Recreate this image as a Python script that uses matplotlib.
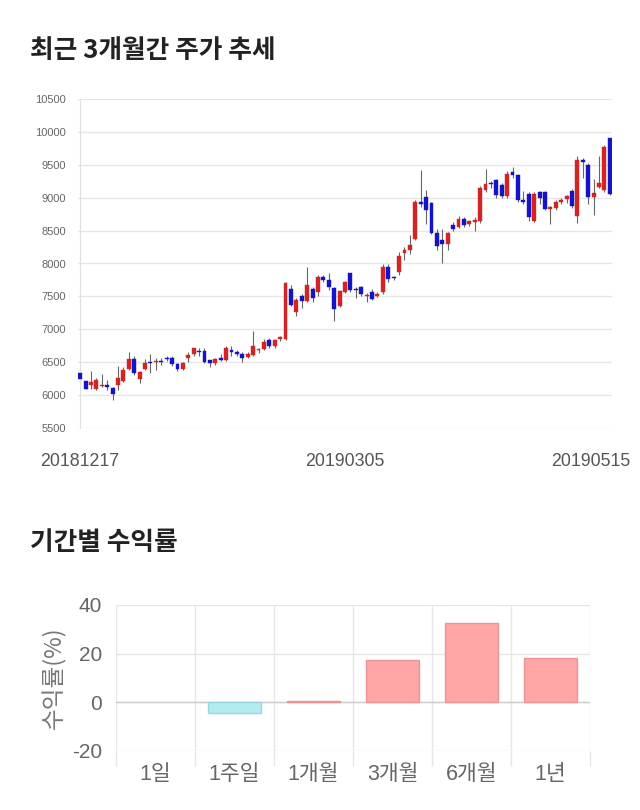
import matplotlib
matplotlib.use("Agg")
import matplotlib.pyplot as plt
import matplotlib.transforms as mtransforms
import numpy as np

plt.rcParams['font.family'] = ['Liberation Sans', 'Noto Sans CJK KR', 'DejaVu Sans']

# ---------------- data ----------------
opens = [6340, 6210, 6160, 6100, 6140, 6160, 6110, 6150, 6210, 6400,
         6550, 6240, 6400, 6510, 6500, 6510, 6570, 6560, 6470, 6390,
         6570, 6620, 6670, 6670, 6530, 6490, 6560, 6530, 6690, 6650,
         6630, 6580, 6614, 6680, 6695, 6830, 6745, 6855, 6860, 7610,
         7260, 7510, 7435, 7620, 7570, 7800, 7750, 7630, 7360, 7570,
         7850, 7600, 7640, 7510, 7560, 7510, 7560, 7940, 7790, 7870,
         8160, 8200, 8370, 8930, 9010, 8920, 8470, 8360, 8300, 8590,
         8560, 8680, 8600, 8630, 8640, 9110, 9230, 9270, 9200, 9020,
         9390, 9340, 8970, 9060, 8650, 9080, 9080, 8830, 8850, 8940,
         8980, 9100, 8720, 9570, 9500, 9010, 9160, 9110, 9900]
closes = [6240, 6100, 6200, 6230, 6160, 6130, 6010, 6260, 6380, 6550,
          6340, 6350, 6490, 6490, 6510, 6500, 6550, 6470, 6390, 6490,
          6610, 6710, 6650, 6500, 6490, 6550, 6530, 6710, 6650, 6630,
          6560, 6630, 6746, 6695, 6800, 6745, 6830, 6880, 7710, 7375,
          7440, 7430, 7680, 7470, 7800, 7750, 7640, 7310, 7580, 7720,
          7600, 7590, 7540, 7525, 7460, 7535, 7940, 7760, 7780, 8120,
          8210, 8280, 8930, 8900, 8810, 8470, 8270, 8290, 8460, 8530,
          8680, 8590, 8640, 8655, 9150, 9210, 9210, 9040, 9020, 9360,
          9340, 8960, 8940, 8710, 9060, 8990, 8830, 8855, 8940, 8960,
          9020, 8880, 9580, 9550, 9010, 9070, 9220, 9770, 9060]
highs = [6350, 6220, 6360, 6260, 6320, 6230, 6130, 6440, 6420, 6650,
         6600, 6360, 6550, 6620, 6570, 6560, 6590, 6600, 6490, 6510,
         6650, 6720, 6720, 6720, 6540, 6570, 6620, 6740, 6750, 6680,
         6650, 6660, 6975, 6720, 6860, 6870, 6860, 6900, 7720, 7680,
         7470, 7540, 7950, 7640, 7820, 7820, 7850, 7650, 7600, 7740,
         7860, 7640, 7660, 7550, 7620, 7560, 7990, 7990, 7810, 8170,
         8250, 8440, 8960, 9420, 9120, 8940, 8520, 8530, 8480, 8630,
         8720, 8700, 8660, 8710, 9180, 9430, 9250, 9290, 9220, 9400,
         9460, 9360, 9100, 9080, 9080, 9100, 9100, 8880, 8960, 8990,
         9040, 9130, 9640, 9600, 9520, 9280, 9630, 9800, 9900]
lows = [6180, 6090, 6090, 6080, 6120, 6080, 5920, 6080, 6200, 6380,
        6300, 6180, 6380, 6340, 6380, 6450, 6520, 6440, 6370, 6380,
        6500, 6600, 6600, 6490, 6420, 6460, 6520, 6520, 6600, 6600,
        6500, 6560, 6600, 6640, 6680, 6720, 6710, 6820, 6840, 7360,
        7200, 7330, 7420, 7420, 7500, 7720, 7600, 7120, 7340, 7550,
        7560, 7470, 7500, 7410, 7440, 7490, 7540, 7720, 7750, 7820,
        8050, 8150, 8350, 8860, 8600, 8450, 8200, 8010, 8200, 8500,
        8540, 8560, 8570, 8500, 8620, 9080, 9150, 9000, 8990, 9000,
        9300, 8940, 8900, 8640, 8630, 8900, 8810, 8600, 8820, 8900,
        8920, 8850, 8620, 9300, 8900, 8740, 9140, 9080, 9040]
date_tick_idx = [0, 49, 98]
date_tick_labels = ['20181217', '20190305', '20190515']
price_ticks = [5500, 6000, 6500, 7000, 7500, 8000, 8500, 9000, 9500, 10000, 10500]

periods = ['1일', '1주일', '1개월', '3개월', '6개월', '1년']
returns = [0.0, -4.3, 0.55, 17.6, 32.6, 18.3]

# ---------------- figure ----------------
W, H = 640, 810
fig = plt.figure(figsize=(W / 100, H / 100), dpi=100)
fig.patch.set_facecolor('white')

def frac_box(left, top, right, bottom):
    return [left / W, 1 - bottom / H, (right - left) / W, (bottom - top) / H]

title_font = ['Noto Sans CJK KR', 'DejaVu Sans']
fig.text(30 / W, 1 - 50 / H, '최근 3개월간 주가 추세', family=title_font,
         fontsize=18.5, fontweight='bold', color='#222222', va='center', ha='left')
fig.text(30 / W, 1 - 543 / H, '기간별 수익률', family=title_font,
         fontsize=18.5, fontweight='bold', color='#222222', va='center', ha='left')

# ---------------- candlestick ----------------
ax = fig.add_axes(frac_box(78, 99, 612, 428))
x = np.arange(len(opens))
o = np.array(opens, float)
c = np.array(closes, float)
hi = np.array(highs, float)
lo = np.array(lows, float)
up = c >= o
ax.vlines(x, lo, hi, color='#666666', lw=0.8, zorder=2)
body_bottom = np.minimum(o, c)
body_h = np.maximum(np.abs(c - o), 18)
colors = np.where(up, '#d42323', '#1414c4')
ax.bar(x, body_h, bottom=body_bottom, width=0.72, color=colors, edgecolor=colors,
       linewidth=0.3, zorder=3)

ax.set_xlim(-0.4, len(opens) - 0.6)
ax.set_ylim(5500, 10500)
ax.set_yticks(price_ticks)
ax.set_yticklabels([str(v) for v in price_ticks])
ax.yaxis.grid(True, color='#e6e6e6', lw=1.0)
ax.set_axisbelow(True)
for s in ['top', 'right', 'bottom']:
    ax.spines[s].set_visible(False)
ax.spines['left'].set_color('#e0e0e0')
ax.spines['left'].set_position(('data', 0))
ax.tick_params(axis='y', length=0, pad=10, labelsize=8, labelcolor='#666666')
ax.set_xticks(date_tick_idx)
ax.set_xticklabels(date_tick_labels)
ax.tick_params(axis='x', length=0, pad=18, labelsize=12.8, labelcolor='#555555')
lbls = ax.get_xticklabels()
lbls[-1].set_transform(lbls[-1].get_transform() +
                       mtransforms.ScaledTranslation(-19 / 100, 0, fig.dpi_scale_trans))

# ---------------- returns bar chart ----------------
bx = fig.add_axes(frac_box(116, 605, 590, 751))
pos = np.arange(len(periods))
bar_fill = ['#ffa6a6' if v >= 0 else '#b3ebf2' for v in returns]
bar_edge = ['#ea9696' if v >= 0 else '#98d6df' for v in returns]
bar_lw = [0 if v == 0 else 1 for v in returns]
bx.bar(pos, returns, width=0.68, color=bar_fill, edgecolor=bar_edge, linewidth=bar_lw, zorder=3)
bx.set_xlim(-0.5, len(periods) - 0.5)
bx.set_ylim(-20, 40)
bx.set_yticks([-20, 0, 20, 40])
bx.set_yticklabels(['-20', '0', '20', '40'])
bx.set_xticks(pos)
bx.set_xticklabels(periods, family=['Liberation Sans', 'Noto Sans CJK KR'])
bx.set_xticks(np.arange(-0.5, len(periods)), minor=True)
bx.yaxis.grid(True, color='#e6e6e6', lw=1)
bx.xaxis.grid(True, which='minor', color='#e6e6e6', lw=1)
bx.axhline(0, color='#cccccc', lw=1, zorder=2)
bx.set_axisbelow(True)
for s in ['top', 'right', 'left', 'bottom']:
    bx.spines[s].set_visible(False)
bx.tick_params(axis='x', which='major', length=0, pad=9, labelsize=15.5, labelcolor='#666666')
bx.tick_params(axis='x', which='minor', length=11, width=1, color='#e6e6e6')
bx.tick_params(axis='y', length=0, pad=10, labelsize=15, labelcolor='#666666')
bx.set_ylabel('수익률(%)', family=['Noto Sans CJK KR', 'DejaVu Sans'], fontsize=17,
              color='#777777', labelpad=4)

fig.savefig('out.png', dpi=100, facecolor='white')
